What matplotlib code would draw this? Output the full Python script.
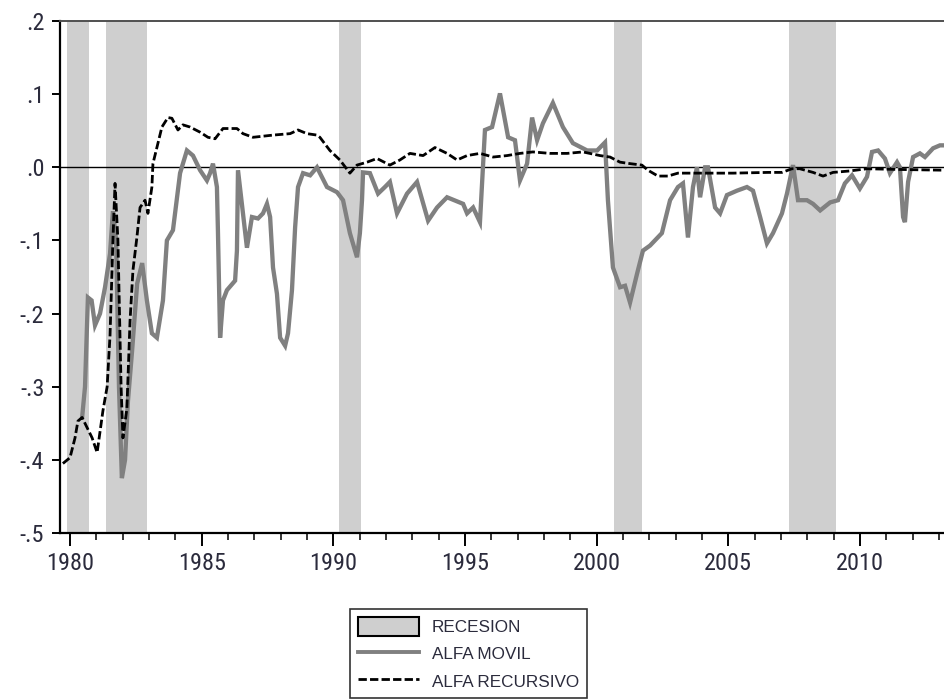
import matplotlib
matplotlib.use("Agg")
import matplotlib.pyplot as plt
from matplotlib import font_manager
from matplotlib.patches import Patch
from matplotlib.lines import Line2D
from matplotlib.ticker import MultipleLocator, FixedLocator

# Recession periods (start, end) in decimal years
recession_start = [1979.90, 1981.36, 1990.23, 2000.66, 2007.30]
recession_end = [1980.72, 1982.94, 1991.05, 2001.72, 2009.10]

# ALFA MOVIL (rolling-window estimate)
movil_year = [
    1980.46, 1980.57, 1980.68, 1980.82, 1980.95, 1981.14, 1981.33, 1981.52, 1981.63, 1981.75,
    1981.86, 1981.97, 1982.09, 1982.20, 1982.36, 1982.55, 1982.74, 1982.92, 1983.11, 1983.30,
    1983.53, 1983.68, 1983.91, 1984.18, 1984.44, 1984.67, 1984.94, 1985.20, 1985.32, 1985.43,
    1985.58, 1985.62, 1985.70, 1985.81, 1985.96, 1986.27, 1986.34, 1986.38, 1986.57, 1986.72,
    1986.91, 1987.14, 1987.33, 1987.48, 1987.60, 1987.71, 1987.86, 1987.98, 1988.17, 1988.28,
    1988.43, 1988.55, 1988.66, 1988.85, 1989.12, 1989.38, 1989.76, 1990.14, 1990.37, 1990.63,
    1990.90, 1991.01, 1991.09, 1991.13, 1991.39, 1991.70, 1991.96, 1992.15, 1992.42, 1992.80,
    1993.18, 1993.60, 1993.94, 1994.32, 1994.93, 1995.08, 1995.31, 1995.57, 1995.76, 1996.03,
    1996.33, 1996.64, 1996.90, 1997.09, 1997.36, 1997.55, 1997.74, 1997.96, 1998.34, 1998.72,
    1999.10, 1999.64, 2000.02, 2000.32, 2000.43, 2000.62, 2000.89, 2001.08, 2001.27, 2001.54,
    2001.76, 2002.03, 2002.48, 2002.79, 2003.09, 2003.28, 2003.47, 2003.66, 2003.81, 2003.93,
    2004.12, 2004.23, 2004.50, 2004.69, 2004.95, 2005.33, 2005.71, 2005.94, 2006.21, 2006.47,
    2006.70, 2007.04, 2007.23, 2007.46, 2007.65, 2007.99, 2008.22, 2008.49, 2008.87, 2009.17,
    2009.43, 2009.70, 2010.00, 2010.27, 2010.46, 2010.69, 2010.95, 2011.14, 2011.41, 2011.52,
    2011.64, 2011.71, 2011.83, 2012.02, 2012.28, 2012.47, 2012.78, 2013.04, 2013.23,
]
movil_value = [
    -0.342, -0.300, -0.178, -0.182, -0.216, -0.200, -0.164, -0.118, -0.060, -0.100,
    -0.300, -0.425, -0.400, -0.320, -0.250, -0.159, -0.131, -0.182, -0.227, -0.233,
    -0.182, -0.100, -0.086, -0.008, 0.023, 0.016, -0.004, -0.018, -0.008, 0.005,
    -0.027, -0.090, -0.233, -0.182, -0.168, -0.155, -0.114, -0.004, -0.063, -0.110,
    -0.068, -0.070, -0.063, -0.050, -0.068, -0.137, -0.173, -0.233, -0.244, -0.227,
    -0.168, -0.082, -0.027, -0.008, -0.011, 0.000, -0.027, -0.034, -0.045, -0.090,
    -0.123, -0.090, -0.045, -0.007, -0.008, -0.036, -0.027, -0.020, -0.063, -0.036,
    -0.020, -0.073, -0.055, -0.041, -0.050, -0.063, -0.055, -0.075, 0.051, 0.055,
    0.101, 0.041, 0.037, -0.018, 0.005, 0.068, 0.037, 0.060, 0.088, 0.055,
    0.033, 0.023, 0.023, 0.034, -0.045, -0.137, -0.164, -0.162, -0.185, -0.145,
    -0.114, -0.107, -0.090, -0.045, -0.027, -0.022, -0.096, -0.027, 0.000, -0.041,
    0.000, 0.000, -0.055, -0.063, -0.038, -0.032, -0.027, -0.032, -0.068, -0.104,
    -0.090, -0.063, -0.036, 0.003, -0.045, -0.045, -0.050, -0.059, -0.048, -0.045,
    -0.022, -0.011, -0.029, -0.013, 0.021, 0.023, 0.012, -0.008, 0.007, 0.000,
    -0.068, -0.075, -0.020, 0.014, 0.019, 0.014, 0.026, 0.030, 0.030,
]

# ALFA RECURSIVO (recursive estimate)
recursivo_year = [
    1979.73, 1980.00, 1980.19, 1980.30, 1980.46, 1980.65, 1980.84, 1981.03, 1981.25, 1981.41,
    1981.52, 1981.63, 1981.71, 1981.82, 1981.94, 1982.01, 1982.16, 1982.28, 1982.39, 1982.54,
    1982.66, 1982.85, 1982.96, 1983.11, 1983.15, 1983.30, 1983.49, 1983.72, 1983.87, 1984.10,
    1984.29, 1984.56, 1984.94, 1985.24, 1985.51, 1985.81, 1986.34, 1986.57, 1986.95, 1987.71,
    1988.36, 1988.66, 1989.00, 1989.38, 1989.49, 1989.87, 1990.25, 1990.63, 1990.90, 1991.28,
    1991.66, 1992.15, 1992.53, 1992.91, 1993.41, 1993.86, 1994.32, 1994.70, 1995.08, 1995.57,
    1996.07, 1996.60, 1997.09, 1997.58, 1998.23, 1998.88, 1999.48, 2000.13, 2000.51, 2000.89,
    2001.27, 2001.72, 2001.95, 2002.33, 2002.71, 2003.09, 2003.93, 2005.18, 2006.51, 2007.04,
    2007.42, 2007.72, 2008.22, 2008.60, 2008.98, 2009.62, 2010.27, 2011.52, 2013.23,
]
recursivo_value = [
    -0.405, -0.397, -0.370, -0.347, -0.342, -0.356, -0.370, -0.390, -0.333, -0.300,
    -0.230, -0.100, -0.022, -0.100, -0.300, -0.370, -0.330, -0.210, -0.141, -0.096,
    -0.055, -0.045, -0.063, -0.027, 0.005, 0.027, 0.055, 0.068, 0.067, 0.051,
    0.058, 0.055, 0.048, 0.041, 0.039, 0.053, 0.053, 0.046, 0.041, 0.044,
    0.046, 0.051, 0.046, 0.044, 0.041, 0.023, 0.010, -0.008, 0.003, 0.007,
    0.012, 0.003, 0.010, 0.019, 0.016, 0.027, 0.019, 0.010, 0.016, 0.019,
    0.014, 0.016, 0.019, 0.021, 0.019, 0.019, 0.021, 0.016, 0.014, 0.007,
    0.005, 0.003, -0.004, -0.012, -0.012, -0.008, -0.008, -0.008, -0.007, -0.007,
    -0.002, -0.002, -0.007, -0.012, -0.007, -0.005, -0.002, -0.003, -0.004,
]

y_ticks = [0.2, 0.1, 0.0, -0.1, -0.2, -0.3, -0.4, -0.5]
y_tick_labels = [".2", ".1", ".0", "-.1", "-.2", "-.3", "-.4", "-.5"]
x_ticks = [1980, 1985, 1990, 1995, 2000, 2005, 2010]
legend_labels = ["RECESION", "ALFA MOVIL", "ALFA RECURSIVO"]

# A condensed sans for the tick labels when one is available
available = {f.name for f in font_manager.fontManager.ttflist}
if "Roboto Condensed" in available:
    TICK_FONT, TICK_SIZE = ["Roboto Condensed", "DejaVu Sans"], 17.5
elif "PT Sans Narrow" in available:
    TICK_FONT, TICK_SIZE = ["PT Sans Narrow", "DejaVu Sans"], 18
else:
    TICK_FONT, TICK_SIZE = ["Liberation Sans", "DejaVu Sans"], 15.5
LEGEND_FONT = ["Liberation Sans", "DejaVu Sans"]

TEXT_COLOR = "#2b2b3c"
BAND_COLOR = "#cfcfcf"
MOVIL_COLOR = "#808080"
DASH = (0, (3.0, 1.15))

fig = plt.figure(figsize=(9.45, 7.0), dpi=100)
W, H = 945, 700
left_px, right_px, top_px, bottom_px = 60, 961, 21, 533
ax = fig.add_axes([left_px / W, 1 - bottom_px / H,
                   (right_px - left_px) / W, (bottom_px - top_px) / H])

ax.set_xlim(1979.62, 1980 + (right_px - 70) / 26.33)
ax.set_ylim(-0.5, 0.2)

for s, e in zip(recession_start, recession_end):
    ax.axvspan(s, e, color=BAND_COLOR, lw=0, zorder=1)

ax.axhline(0.0, color="black", lw=1.0, zorder=2)

ax.plot(movil_year, movil_value, color=MOVIL_COLOR, lw=3.1, zorder=3,
        solid_joinstyle="miter")
ax.plot(recursivo_year, recursivo_value, color="black", lw=2.0, zorder=4,
        linestyle=DASH)

# axes frame
ax.spines["right"].set_visible(False)
ax.spines["left"].set_linewidth(1.6)
ax.spines["bottom"].set_linewidth(1.6)
ax.spines["top"].set_linewidth(1.4)
ax.spines["top"].set_color("#505050")

ax.yaxis.set_major_locator(FixedLocator(y_ticks))
ax.set_yticklabels(y_tick_labels)
ax.xaxis.set_major_locator(FixedLocator(x_ticks))
ax.set_xticklabels([str(t) for t in x_ticks])
ax.xaxis.set_minor_locator(MultipleLocator(1))

ax.tick_params(axis="y", which="major", direction="out", length=5.8, width=1.4,
               pad=5.5, labelsize=TICK_SIZE, labelcolor=TEXT_COLOR)
ax.tick_params(axis="x", which="major", direction="out", length=9.4, width=1.4,
               pad=4.5, labelsize=TICK_SIZE, labelcolor=TEXT_COLOR)
ax.tick_params(axis="x", which="minor", direction="out", length=5.0, width=1.1)
for lab in ax.get_xticklabels() + ax.get_yticklabels():
    lab.set_family(TICK_FONT)

handles = [
    Patch(facecolor=BAND_COLOR, edgecolor="black", linewidth=1.5),
    Line2D([], [], color=MOVIL_COLOR, lw=2.8),
    Line2D([], [], color="black", lw=2.0, linestyle=DASH),
]
leg = fig.legend(handles, legend_labels, loc="upper left",
                 bbox_to_anchor=(350 / W, 1 - 609 / H),
                 frameon=True, fancybox=False, edgecolor="black",
                 borderaxespad=0, borderpad=0.45, handlelength=3.6,
                 handleheight=1.35, handletextpad=0.75, labelspacing=0.48,
                 prop={"family": LEGEND_FONT, "size": 12.3})
leg.get_frame().set_linewidth(1.2)
for t in leg.get_texts():
    t.set_color(TEXT_COLOR)

fig.savefig("out.png", dpi=100, facecolor="white")
